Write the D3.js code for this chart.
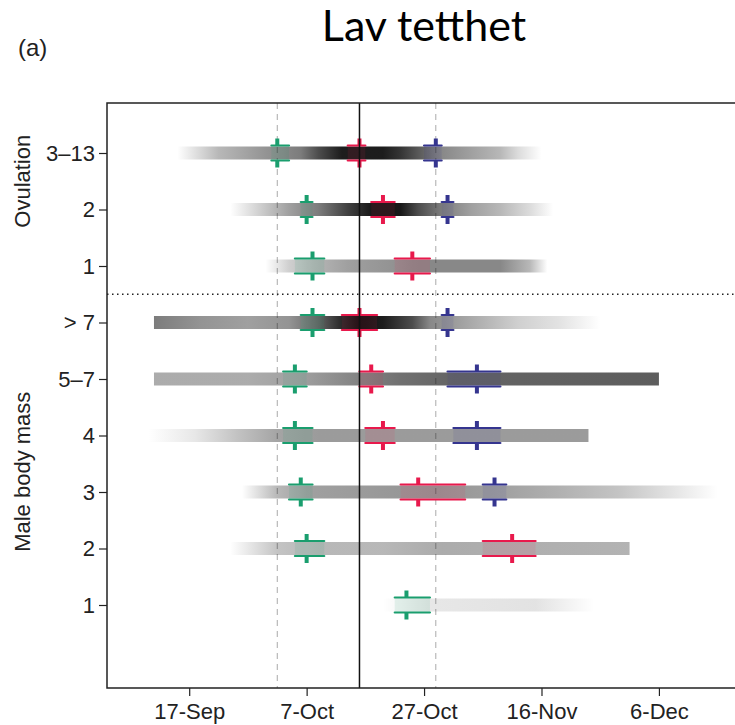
<!DOCTYPE html>
<html>
<head>
<meta charset="utf-8">
<script src="https://cdn.jsdelivr.net/npm/d3@7"></script>
<style>
  body { margin: 0; background: #fff; }
  svg { display: block; }
  text { font-family: 'Liberation Sans', Arial, sans-serif; fill: #222; }
</style>
</head>
<body>
<div id="chart"></div>
<script>
/* globals d3 */

let rowLabels = ['3–13', '2', '1', '> 7', '5–7', '4', '3', '2', '1']
let rowGroups = ['Ovulation', 'Ovulation', 'Ovulation', 'Male body mass', 'Male body mass',
  'Male body mass', 'Male body mass', 'Male body mass', 'Male body mass']

let tickDates = ['17-Sep', '7-Oct', '27-Oct', '16-Nov', '6-Dec']
let dateDomain = ['3-Sep', '21-Dec']

// reference lines: early, peak, late (taken from the top row)
let earlyRef = '2-Oct'
let peakRef = '16-Oct'
let lateRef = '29-Oct'

// [estimate, lower, upper] per row, null when missing
let greenEst = [
  ['2-Oct', '1-Oct', '4-Oct'],
  ['7-Oct', '6-Oct', '8-Oct'],
  ['8-Oct', '5-Oct', '10-Oct'],
  ['8-Oct', '6-Oct', '10-Oct'],
  ['5-Oct', '3-Oct', '7-Oct'],
  ['5-Oct', '3-Oct', '8-Oct'],
  ['6-Oct', '4-Oct', '8-Oct'],
  ['7-Oct', '5-Oct', '10-Oct'],
  ['24-Oct', '22-Oct', '28-Oct']
]
let redEst = [
  ['16-Oct', '14-Oct', '17-Oct'],
  ['20-Oct', '18-Oct', '22-Oct'],
  ['25-Oct', '22-Oct', '28-Oct'],
  ['16-Oct', '13-Oct', '19-Oct'],
  ['18-Oct', '16-Oct', '20-Oct'],
  ['20-Oct', '17-Oct', '22-Oct'],
  ['26-Oct', '23-Oct', '3-Nov'],
  ['11-Nov', '6-Nov', '15-Nov'],
  null
]
let blueEst = [
  ['29-Oct', '27-Oct', '30-Oct'],
  ['31-Oct', '30-Oct', '1-Nov'],
  null,
  ['31-Oct', '30-Oct', '1-Nov'],
  ['5-Nov', '31-Oct', '9-Nov'],
  ['5-Nov', '1-Nov', '9-Nov'],
  ['8-Nov', '6-Nov', '10-Nov'],
  null,
  null
]

// shading of each row along the date axis: [date, darkness 0..1]
let density = [
  [['15-Sep', 0], ['22-Sep', 0.3], ['30-Sep', 0.45], ['6-Oct', 0.55], ['9-Oct', 0.75], ['13-Oct', 0.95], ['20-Oct', 0.95],
    ['23-Oct', 0.85], ['26-Oct', 0.7], ['30-Oct', 0.5], ['4-Nov', 0.4], ['9-Nov', 0.3], ['12-Nov', 0.15], ['16-Nov', 0]],
  [['24-Sep', 0], ['29-Sep', 0.2], ['4-Oct', 0.4], ['9-Oct', 0.55], ['14-Oct', 0.8], ['18-Oct', 0.97], ['23-Oct', 0.97],
    ['26-Oct', 0.75], ['30-Oct', 0.55], ['4-Nov', 0.4], ['9-Nov', 0.3], ['14-Nov', 0.15], ['18-Nov', 0]],
  [['30-Sep', 0], ['4-Oct', 0.2], ['8-Oct', 0.3], ['14-Oct', 0.4], ['21-Oct', 0.45], ['26-Oct', 0.5], ['9-Nov', 0.5],
    ['14-Nov', 0.3], ['17-Nov', 0]],
  [['11-Sep', 0.55], ['19-Sep', 0.45], ['27-Sep', 0.4], ['4-Oct', 0.45], ['9-Oct', 0.65], ['13-Oct', 0.9], ['16-Oct', 1],
    ['20-Oct', 0.95], ['25-Oct', 0.75], ['28-Oct', 0.5], ['2-Nov', 0.4], ['7-Nov', 0.3], ['12-Nov', 0.2], ['19-Nov', 0.12], ['26-Nov', 0]],
  [['11-Sep', 0.35], ['27-Sep', 0.35], ['6-Oct', 0.4], ['14-Oct', 0.5], ['23-Oct', 0.6], ['1-Nov', 0.65], ['6-Dec', 0.68]],
  [['10-Sep', 0], ['18-Sep', 0.1], ['25-Sep', 0.25], ['2-Oct', 0.38], ['9-Oct', 0.42], ['24-Nov', 0.42]],
  [['26-Sep', 0], ['2-Oct', 0.3], ['7-Oct', 0.4], ['16-Oct', 0.42], ['29-Oct', 0.45], ['9-Nov', 0.4], ['19-Nov', 0.33],
    ['29-Nov', 0.25], ['8-Dec', 0.12], ['16-Dec', 0]],
  [['24-Sep', 0], ['2-Oct', 0.25], ['9-Oct', 0.3], ['20-Oct', 0.3], ['30-Oct', 0.35], ['1-Dec', 0.32]],
  [['20-Oct', 0], ['28-Oct', 0.1], ['15-Nov', 0.12], ['25-Nov', 0]]
]

let W = 735
let H = 725
let mLeft = 107
let mTop = 103
let mBottom = 688
let barH = 13
let boxH = 15
let stub = 7

let parse = (s) => d3.utcParse('%d-%b-%Y')(s + '-2010')

let x = d3.scaleUtc()
  .domain(dateDomain.map(parse))
  .range([mLeft, 747])

let rowIds = rowLabels.map((d, i) => 'r' + i)
let y = d3.scalePoint()
  .domain(rowIds)
  .range([153, 605])

let svg = d3.select('#chart').append('svg')
  .attr('width', W)
  .attr('height', H)

let defs = svg.append('defs')

svg.append('text')
  .attr('x', 424)
  .attr('y', 41)
  .attr('text-anchor', 'middle')
  .style('font-family', 'Lato, sans-serif')
  .style('font-size', '43px')
  .style('fill', '#000')
  .text('Lav tetthet')

svg.append('text')
  .attr('x', 18)
  .attr('y', 56)
  .style('font-size', '24px')
  .text('(a)')

// dashed reference lines sit under the bars
svg.selectAll('.ref')
  .data([earlyRef, lateRef])
  .enter().append('line')
    .attr('class', 'ref')
    .attr('x1', (d) => x(parse(d)))
    .attr('x2', (d) => x(parse(d)))
    .attr('y1', mTop)
    .attr('y2', mBottom)
    .attr('stroke', '#aaa')
    .attr('stroke-width', 1)
    .attr('stroke-dasharray', '6,5')

// gradient bars
density.forEach(function (prof, i) {
  let x0 = x(parse(prof[0][0]))
  let x1 = x(parse(prof[prof.length - 1][0]))
  let g = defs.append('linearGradient')
    .attr('id', 'grad' + i)
    .attr('gradientUnits', 'userSpaceOnUse')
    .attr('x1', x0)
    .attr('x2', x1)
    .attr('y1', 0)
    .attr('y2', 0)
  g.selectAll('stop')
    .data(prof)
    .enter().append('stop')
      .attr('offset', (d) => (x(parse(d[0])) - x0) / (x1 - x0))
      .attr('stop-color', '#111')
      .attr('stop-opacity', (d) => d[1])
  svg.append('rect')
    .attr('x', x0)
    .attr('y', y(rowIds[i]) - barH / 2)
    .attr('width', x1 - x0)
    .attr('height', barH)
    .attr('fill', 'url(#grad' + i + ')')
})

// dotted separator between the two groups
svg.append('line')
  .attr('x1', mLeft)
  .attr('x2', W)
  .attr('y1', (y(rowIds[2]) + y(rowIds[3])) / 2)
  .attr('y2', (y(rowIds[2]) + y(rowIds[3])) / 2)
  .attr('stroke', '#222')
  .attr('stroke-width', 1.5)
  .attr('stroke-dasharray', '1.5,3.5')

function drawMarks (est, color) {
  let data = est.map((d, i) => d ? { row: rowIds[i], c: parse(d[0]), lo: parse(d[1]), hi: parse(d[2]) } : null)
    .filter((d) => d)
  let g = svg.append('g')
  g.selectAll('rect')
    .data(data)
    .enter().append('rect')
      .attr('x', (d) => x(d.lo))
      .attr('y', (d) => y(d.row) - boxH / 2)
      .attr('width', (d) => x(d.hi) - x(d.lo))
      .attr('height', boxH)
      .attr('fill', color)
      .attr('fill-opacity', 0.1)
  // interval edges above and below the bar
  ;[-1, 1].forEach(function (s) {
    g.selectAll('.edge' + s)
      .data(data)
      .enter().append('line')
        .attr('x1', (d) => x(d.lo))
        .attr('x2', (d) => x(d.hi))
        .attr('y1', (d) => y(d.row) + s * boxH / 2)
        .attr('y2', (d) => y(d.row) + s * boxH / 2)
        .attr('stroke', color)
        .attr('stroke-width', 2.2)
        .attr('stroke-linecap', 'round')
    g.selectAll('.stub' + s)
      .data(data)
      .enter().append('line')
        .attr('x1', (d) => x(d.c))
        .attr('x2', (d) => x(d.c))
        .attr('y1', (d) => y(d.row) + s * boxH / 2)
        .attr('y2', (d) => y(d.row) + s * (boxH / 2 + stub))
        .attr('stroke', color)
        .attr('stroke-width', 4)
  })
}

drawMarks(greenEst, '#1a9e6e')
drawMarks(redEst, '#e8194c')
drawMarks(blueEst, '#35358f')

// solid peak line
svg.append('line')
  .attr('x1', x(parse(peakRef)))
  .attr('x2', x(parse(peakRef)))
  .attr('y1', mTop)
  .attr('y2', mBottom)
  .attr('stroke', '#111')
  .attr('stroke-width', 1.5)

// frame
svg.append('path')
  .attr('d', 'M' + W + ',' + mTop + 'H' + mLeft + 'V' + mBottom + 'H' + W)
  .attr('fill', 'none')
  .attr('stroke', '#222')
  .attr('stroke-width', 1.5)

let xAxis = svg.append('g')
  .attr('transform', 'translate(0,' + mBottom + ')')
  .call(d3.axisBottom(x)
    .tickValues(tickDates.map(parse))
    .tickFormat(d3.utcFormat('%-d-%b'))
    .tickSize(8)
    .tickPadding(7))
xAxis.select('.domain').remove()
xAxis.selectAll('line').attr('stroke', '#222').attr('stroke-width', 1.2)
xAxis.selectAll('text').style('font-size', '22px').style('font-family', 'Liberation Sans, Arial, sans-serif').attr('fill', '#222')

let yAxis = svg.append('g')
  .attr('transform', 'translate(' + mLeft + ',0)')
  .call(d3.axisLeft(y)
    .tickFormat((d, i) => rowLabels[i])
    .tickSize(8)
    .tickPadding(4))
yAxis.select('.domain').remove()
yAxis.selectAll('line').attr('stroke', '#222').attr('stroke-width', 1.2)
yAxis.selectAll('text').style('font-size', '22px').style('font-family', 'Liberation Sans, Arial, sans-serif').attr('fill', '#222')

// group titles, each centred on a pair of rows (plus a small nudge)
let groupCentre = { 'Ovulation': [0, 1, 0], 'Male body mass': [5, 6, 8] }
Object.keys(groupCentre).forEach(function (name) {
  let p = groupCentre[name]
  let cy = (y(rowIds[p[0]]) + y(rowIds[p[1]])) / 2 + p[2]
  svg.append('text')
    .attr('transform', 'translate(30,' + cy + ') rotate(-90)')
    .attr('text-anchor', 'middle')
    .style('font-size', '22px')
    .text(name)
})
</script>
</body>
</html>
